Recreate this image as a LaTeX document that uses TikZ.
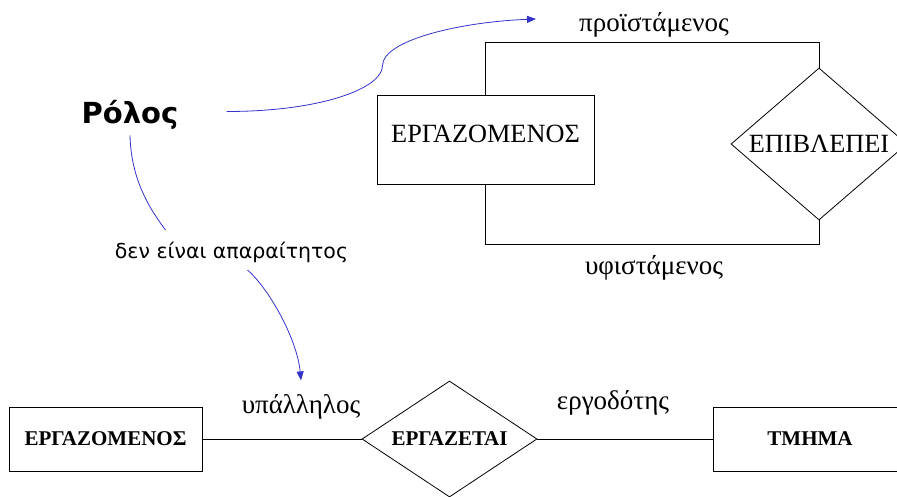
\documentclass[tikz,border=0pt]{standalone}
\usepackage{fontspec}
\setmainfont{Liberation Serif}
\newfontfamily\notefont{DejaVu Sans}
\usetikzlibrary{calc}
\usetikzlibrary{positioning}
\usetikzlibrary{shapes.geometric,arrows.meta}
\definecolor{remarkblue}{RGB}{51,51,204}
\tikzset{
  entity/.style={draw, line width=0.8pt, inner sep=0pt},
  relation/.style={draw, diamond, line width=0.8pt, inner sep=0pt},
  link/.style={draw, line width=0.8pt},
  rolename/.style={inner sep=2pt, font=\fontsize{27}{32}\selectfont},
  remark/.style={draw=remarkblue, line width=0.8pt},
  remarktip/.style={-{Triangle[length=9pt, width=7pt]}, remarkblue},
}

\begin{document}
\begin{tikzpicture}[x=1pt, y=-1pt]
  \clip (0,0) rectangle (897,496);

  % recursive relationship
  \node [entity, minimum width=217pt, minimum height=89pt, text depth=12pt,
         font=\fontsize{26.3}{31}\selectfont] at (485.5,139.5) (worker) {ΕΡΓΑΖΟΜΕΝΟΣ};
  \node [relation, minimum width=176pt, minimum height=152pt, shape aspect=1.16,
         font=\fontsize{26.3}{31}\selectfont] at (819,144) (supervises) {ΕΠΙΒΛΕΠΕΙ};
  \draw [link] (worker.north) -- ++(0,-52) -| (supervises.north);
  \draw [link] (worker.south) -- ++(0,60) -| (supervises.south);
  \node [rolename] at (654,25) (boss) {προϊστάμενος};
  \node [rolename] at (654,268) (subordinate) {υφιστάμενος};

  % binary relationship
  \node [entity, minimum width=193pt, minimum height=64pt,
         font=\fontsize{21}{25}\selectfont\bfseries] at (105.5,439) (employee) {ΕΡΓΑΖΟΜΕΝΟΣ};
  \node [relation, minimum width=175pt, minimum height=116pt, shape aspect=1.5,
         font=\fontsize{21}{25}\selectfont\bfseries] at (449.5,439) (worksfor) {ΕΡΓΑΖΕΤΑΙ};
  \node [entity, minimum width=194pt, minimum height=64pt,
         font=\fontsize{21}{25}\selectfont\bfseries] at (810,439) (dept) {ΤΜΗΜΑ};
  \draw [link] (employee) -- (worksfor);
  \draw [link] (worksfor) -- (dept);
  \node [rolename] at (301,407) (staff) {υπάλληλος};
  \node [rolename] at (613,402.5) (employer) {εργοδότης};

  % remarks
  \node [inner sep=2pt, font=\notefont\bfseries\fontsize{29}{35}\selectfont] at (130,114.5) (role) {Ρόλος};
  \node [inner sep=2pt, font=\notefont\fontsize{20.5}{25}\selectfont] at (231.5,252.5) (note) {δεν είναι απαραίτητος};

  \draw [remark, remarktip] ([shift={(46pt,3pt)}]role.east)
    .. controls +(94,0) and +(0,23) .. ++(156,-46)
    .. controls +(0,-25) and +(-77,3) .. ([shift={(-41pt,6pt)}]boss.west);
  \draw [remark] ([yshift=-4pt]role.south)
    .. controls +(1,45) and +(-15,-20) .. ([shift={(-66pt,10pt)}]note.north);
  \draw [remark, remarktip] ([shift={(16pt,-5pt)}]note.south)
    .. controls +(21,18) and +(-4,-42) .. ([yshift=12pt]staff.north);

\end{tikzpicture}
\end{document}
